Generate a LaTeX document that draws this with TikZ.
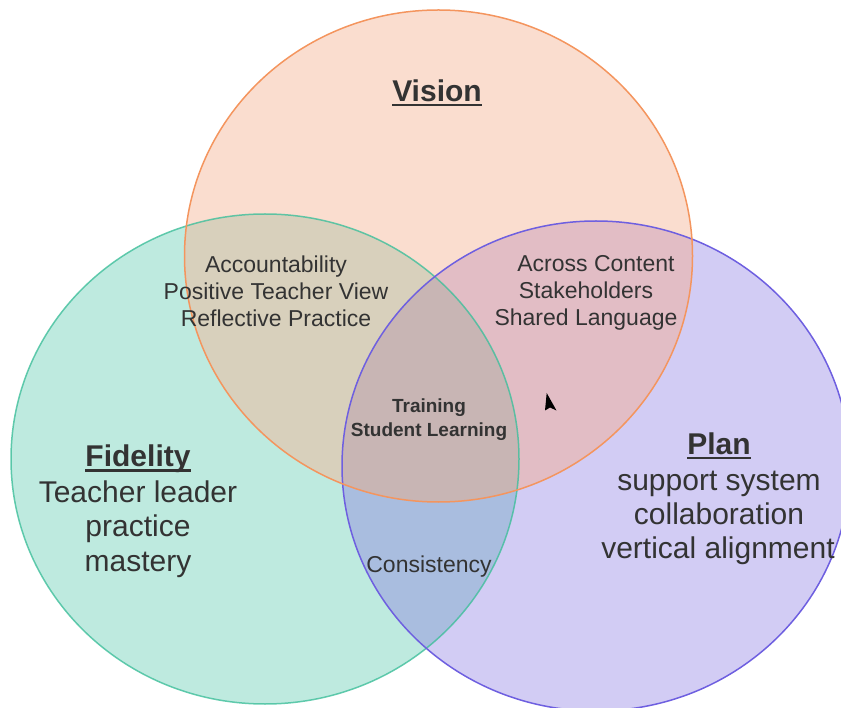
\documentclass[tikz,border=0pt]{standalone}
\usepackage{fontspec}
\setmainfont{Liberation Sans}
\definecolor{cV}{HTML}{FADDCF}
\definecolor{cF}{HTML}{BEEADF}
\definecolor{cP}{HTML}{D2CCF4}
\definecolor{cVF}{HTML}{D8D0BC}
\definecolor{cVP}{HTML}{E2BDC5}
\definecolor{cFP}{HTML}{A9BDDF}
\definecolor{cVFP}{HTML}{C8B5B4}
\definecolor{sV}{HTML}{F4955E}
\definecolor{sF}{HTML}{3FBF9B}
\definecolor{sP}{HTML}{6E5FE0}
\definecolor{txt}{HTML}{333333}
\begin{document}
\begin{tikzpicture}[x=1pt,y=-1pt,
  ring/.style={line width=1.5pt},
  txtbase/.style={inner sep=0pt,anchor=base,text=txt},
  bigtxt/.style={txtbase,font=\fontsize{30}{35}\selectfont},
  titletxt/.style={txtbase,font=\fontsize{30}{35}\selectfont\bfseries},
  midtxt/.style={txtbase,font=\fontsize{23}{27}\selectfont},
  coretxt/.style={txtbase,font=\fontsize{19}{23}\selectfont\bfseries},
  uline/.style={line width=2.4pt,draw=txt}]
\useasboundingbox (0,0) rectangle (841,708);
\clip (0,0) rectangle (841,708);
\def\Vpath{(438.5,256) ellipse [x radius=254pt, y radius=246pt]}
\def\Fpath{(265,459) ellipse [x radius=254pt, y radius=245pt]}
\def\Ppath{(596,466) ellipse [x radius=254pt, y radius=245pt]}
% region fills
\fill[cV] \Vpath;
\fill[cF] \Fpath;
\fill[cP] \Ppath;
\begin{scope}\clip \Vpath; \fill[cVF] \Fpath; \end{scope}
\begin{scope}\clip \Vpath; \fill[cVP] \Ppath; \end{scope}
\begin{scope}\clip \Fpath; \fill[cFP] \Ppath; \end{scope}
\begin{scope}\clip \Vpath; \clip \Fpath; \fill[cVFP] \Ppath; \end{scope}
% outlines
\draw[ring,sF,draw opacity=0.8] \Fpath;
\draw[ring,sP] \Ppath;
\draw[ring,sV] \Vpath;
% titles
\node[titletxt] (vt) at (437,102) {Vision};
\draw[uline] ([yshift=-3pt]vt.base west) -- ([yshift=-3pt]vt.base east);
\node[titletxt] (ft) at (138,467) {Fidelity};
\draw[uline] ([yshift=-3.5pt]ft.base west) -- ([yshift=-3.5pt]ft.base east);
\node[titletxt] (pt) at (719,455) {Plan};
\draw[uline] ([yshift=-3pt]pt.base west) -- ([yshift=-3pt]pt.base east);
% fidelity lines
\node[bigtxt] (f1) at (138,502) {Teacher leader};
\node[bigtxt] (f2) at (138,536) {practice};
\node[bigtxt] (f3) at (138,571) {mastery};
% plan lines
\node[bigtxt] (p1) at (719,490) {support system};
\node[bigtxt] (p2) at (719,524) {collaboration};
\node[bigtxt] (p3) at (718,558) {vertical alignment};
% vision-fidelity
\node[midtxt] (a1) at (276,273) {Accountability};
\node[midtxt] (a2) at (276,300) {Positive Teacher View};
\node[midtxt] (a3) at (276,327) {Reflective Practice};
% vision-plan
\node[midtxt] (b1) at (596,272) {Across Content};
\node[midtxt] (b2) at (586,299) {Stakeholders};
\node[midtxt] (b3) at (586,326) {Shared Language};
% centre
\node[coretxt] (c1) at (429,413) {Training};
\node[coretxt] (c2) at (429,437) {Student Learning};
% fidelity-plan
\node[midtxt] (d1) at (429,572) {Consistency};
% cursor mark
\fill[black] (546.7,393) -- (545,410.5) -- (550,407.5) -- (556.5,410.5) -- cycle;
\end{tikzpicture}
\end{document}
